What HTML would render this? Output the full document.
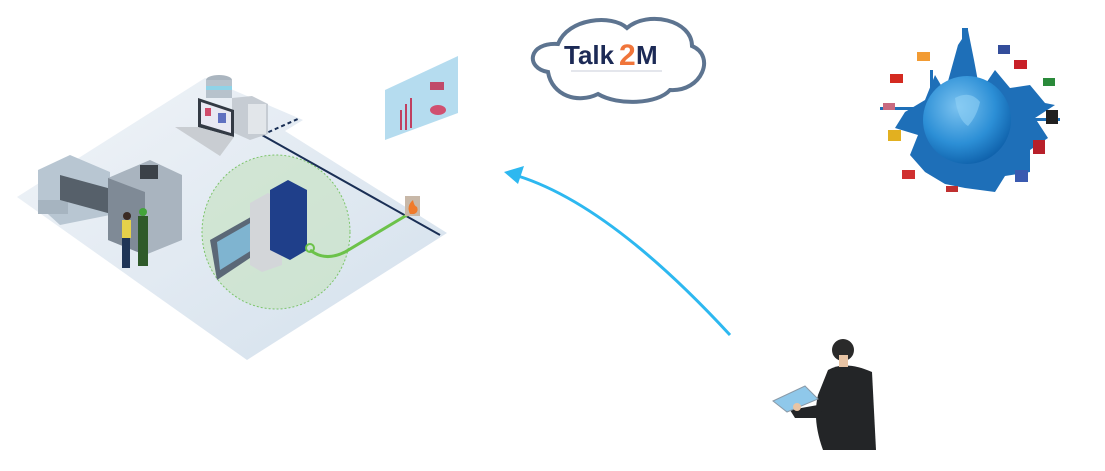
<!DOCTYPE html>
<html><head><meta charset="utf-8"><style>
html,body{margin:0;padding:0;background:#fff;}
svg{display:block;}
</style></head><body>
<svg width="1105" height="471" viewBox="0 0 1105 471" xmlns="http://www.w3.org/2000/svg">
<defs>
<linearGradient id="fl" x1="0" y1="0" x2="1" y2="1">
<stop offset="0" stop-color="#f1f4f8"/><stop offset="1" stop-color="#d3e0ec"/></linearGradient>
<radialGradient id="gl" cx="0.4" cy="0.35" r="0.7">
<stop offset="0" stop-color="#7cc3f0"/><stop offset="0.6" stop-color="#2c8fd6"/><stop offset="1" stop-color="#0d5ea8"/></radialGradient>
</defs>
<!-- floor -->
<polygon points="17,197 205,78 303,120 285,131 447,233 247,360" fill="url(#fl)"/>
<!-- dashed network line -->
<line x1="262" y1="135" x2="300" y2="118" stroke="#1a2f55" stroke-width="2" stroke-dasharray="4,3"/>
<line x1="262" y1="135" x2="440" y2="235" stroke="#1a2f55" stroke-width="2"/>
<!-- green zone -->
<ellipse cx="276" cy="232" rx="74" ry="77" fill="#c9e3c6" fill-opacity="0.7" stroke="#7cc46a" stroke-dasharray="2,2"/>
<path d="M310,250 Q325,262 345,252 L412,212" stroke="#6cc24a" stroke-width="3" fill="none"/>
<rect x="405" y="196" width="15" height="20" fill="#c8b8a8"/>
<path d="M410,214 q-4,-8 3,-14 q1,6 4,7 q2,5 -3,7z" fill="#f07a2a"/>
<!-- database & server -->
<ellipse cx="219" cy="80" rx="13" ry="5" fill="#aab5bf"/>
<rect x="206" y="80" width="26" height="18" fill="#b7c2cc"/>
<rect x="206" y="86" width="26" height="4" fill="#8fd3e8"/>
<polygon points="232,98 252,96 268,104 268,134 250,140 232,132" fill="#c6ccd3"/>
<rect x="248" y="104" width="18" height="30" fill="#e2e6ea"/>
<polygon points="198,98 234,110 234,137 198,127" fill="#333a44"/>
<polygon points="201,102 231,112 231,133 201,124" fill="#e8e8f2"/>
<rect x="205" y="108" width="6" height="8" fill="#d04a6a"/>
<rect x="218" y="113" width="8" height="10" fill="#6070c0"/>
<polygon points="175,127 198,127 234,137 220,156" fill="#c9cdd2"/>
<!-- wall chart -->
<polygon points="385,90 458,56 458,113 385,140" fill="#a8d6ec" opacity="0.85"/>
<rect x="400" y="110" width="2" height="20" fill="#c04060"/>
<rect x="405" y="104" width="2" height="26" fill="#c04060"/>
<rect x="410" y="98" width="2" height="30" fill="#c04060"/>
<ellipse cx="438" cy="110" rx="8" ry="5" fill="#d05070"/>
<rect x="430" y="82" width="14" height="8" fill="#c04a6a"/>
<!-- robot/machine -->
<polygon points="38,170 70,155 110,172 110,215 60,225 38,205" fill="#b8c6d2"/>
<rect x="38" y="200" width="30" height="14" fill="#a6b4c0"/>
<polygon points="60,175 115,190 115,215 60,200" fill="#56606a"/>
<polygon points="108,178 150,160 182,175 182,240 145,255 108,240" fill="#a9b4bf"/>
<polygon points="108,178 145,192 145,255 108,240" fill="#7f8a96"/>
<rect x="140" y="165" width="18" height="14" fill="#3b4148"/>
<rect x="122" y="220" width="9" height="18" fill="#e6d14a"/>
<rect x="122" y="238" width="8" height="30" fill="#1f3556"/>
<circle cx="127" cy="216" r="4" fill="#3a2a22"/>
<rect x="138" y="216" width="10" height="50" fill="#2f5a2a"/>
<circle cx="143" cy="212" r="4" fill="#43a43a"/>
<!-- HMI & PLC -->
<polygon points="210,240 256,214 256,254 217,280" fill="#5b6877"/>
<polygon points="217,242 252,222 252,250 220,270" fill="#7fb4d0"/>
<polygon points="250,203 268,193 282,200 282,265 262,272 250,265" fill="#d3d6d9"/>
<polygon points="270,190 288,180 307,190 307,250 290,260 270,250" fill="#1f3f8a"/>
<circle cx="310" cy="248" r="4" fill="none" stroke="#6cc24a" stroke-width="2"/>
<!-- cloud -->
<path d="M548,72 C525,68 528,42 558,44 C568,18 612,14 627,28 C648,10 692,20 692,46 C716,56 702,92 670,90 C658,104 618,106 598,94 C578,104 552,96 548,72z" fill="#fff" stroke="#5d7490" stroke-width="4"/>
<text x="564" y="64" font-family="Liberation Sans, sans-serif" font-weight="bold" font-size="26" fill="#1c2a56">Talk</text>
<text x="619" y="65" font-family="Liberation Sans, sans-serif" font-weight="bold" font-size="30" fill="#f0753a">2</text>
<text x="636" y="64" font-family="Liberation Sans, sans-serif" font-weight="bold" font-size="26" fill="#1c2a56">M</text>
<line x1="571" y1="71" x2="662" y2="71" stroke="#c8ccd8" stroke-width="1"/>
<!-- arrow -->
<path d="M730,335 Q610,205 518,176" stroke="#2db8f0" stroke-width="3" fill="none"/>
<polygon points="504,172 524,166 518,184" fill="#2db8f0"/>
<!-- globe skyline -->
<g fill="#1e6fb8">
<polygon points="905,112 925,100 935,75 945,92 958,45 968,30 974,60 980,92 995,70 1010,88 1030,85 1045,103 1055,105 1035,118 1048,138 1030,150 1030,172 1005,176 995,192 965,188 945,184 925,172 910,155 918,135 895,128"/>
<rect x="962" y="28" width="6" height="45"/>
<rect x="880" y="107" width="40" height="3"/>
<rect x="1010" y="118" width="50" height="3"/>
<rect x="930" y="70" width="3" height="40"/>
<rect x="1000" y="80" width="3" height="30"/>
</g>
<circle cx="967" cy="120" r="44" fill="url(#gl)"/>
<path d="M955,98 q15,-8 25,4 q-3,14 -12,24 q-10,-6 -13,-28z" fill="#8fd0f5" opacity="0.6"/>
<rect x="890" y="74" width="13" height="9" fill="#d42a20"/>
<rect x="917" y="52" width="13" height="9" fill="#f29b33"/>
<rect x="998" y="45" width="12" height="9" fill="#334d9b"/>
<rect x="1014" y="60" width="13" height="9" fill="#c82028"/>
<rect x="1043" y="78" width="12" height="8" fill="#2a8a3a"/>
<rect x="1046" y="110" width="12" height="14" fill="#202020"/>
<rect x="1033" y="140" width="12" height="14" fill="#b8202a"/>
<rect x="1015" y="170" width="13" height="12" fill="#3a5ab0"/>
<rect x="888" y="130" width="13" height="11" fill="#e2b020"/>
<rect x="902" y="170" width="13" height="9" fill="#d03030"/>
<rect x="946" y="186" width="12" height="6" fill="#c03030"/>
<rect x="883" y="103" width="12" height="7" fill="#c86a80"/>
<!-- person -->
<path d="M828,370 Q845,360 872,372 L876,450 L823,450 Q812,420 818,395z" fill="#232527"/>
<circle cx="843" cy="350" r="11" fill="#2a2a2a"/>
<rect x="839" y="355" width="9" height="12" fill="#e8c4a4"/>
<path d="M818,405 L790,410 L795,418 L825,418z" fill="#232527"/>
<polygon points="773,401 805,386 818,399 787,412" fill="#8fc8ea" stroke="#8a9aa8"/>
<circle cx="797" cy="407" r="4" fill="#e8c4a4"/>
</svg>
</body></html>
